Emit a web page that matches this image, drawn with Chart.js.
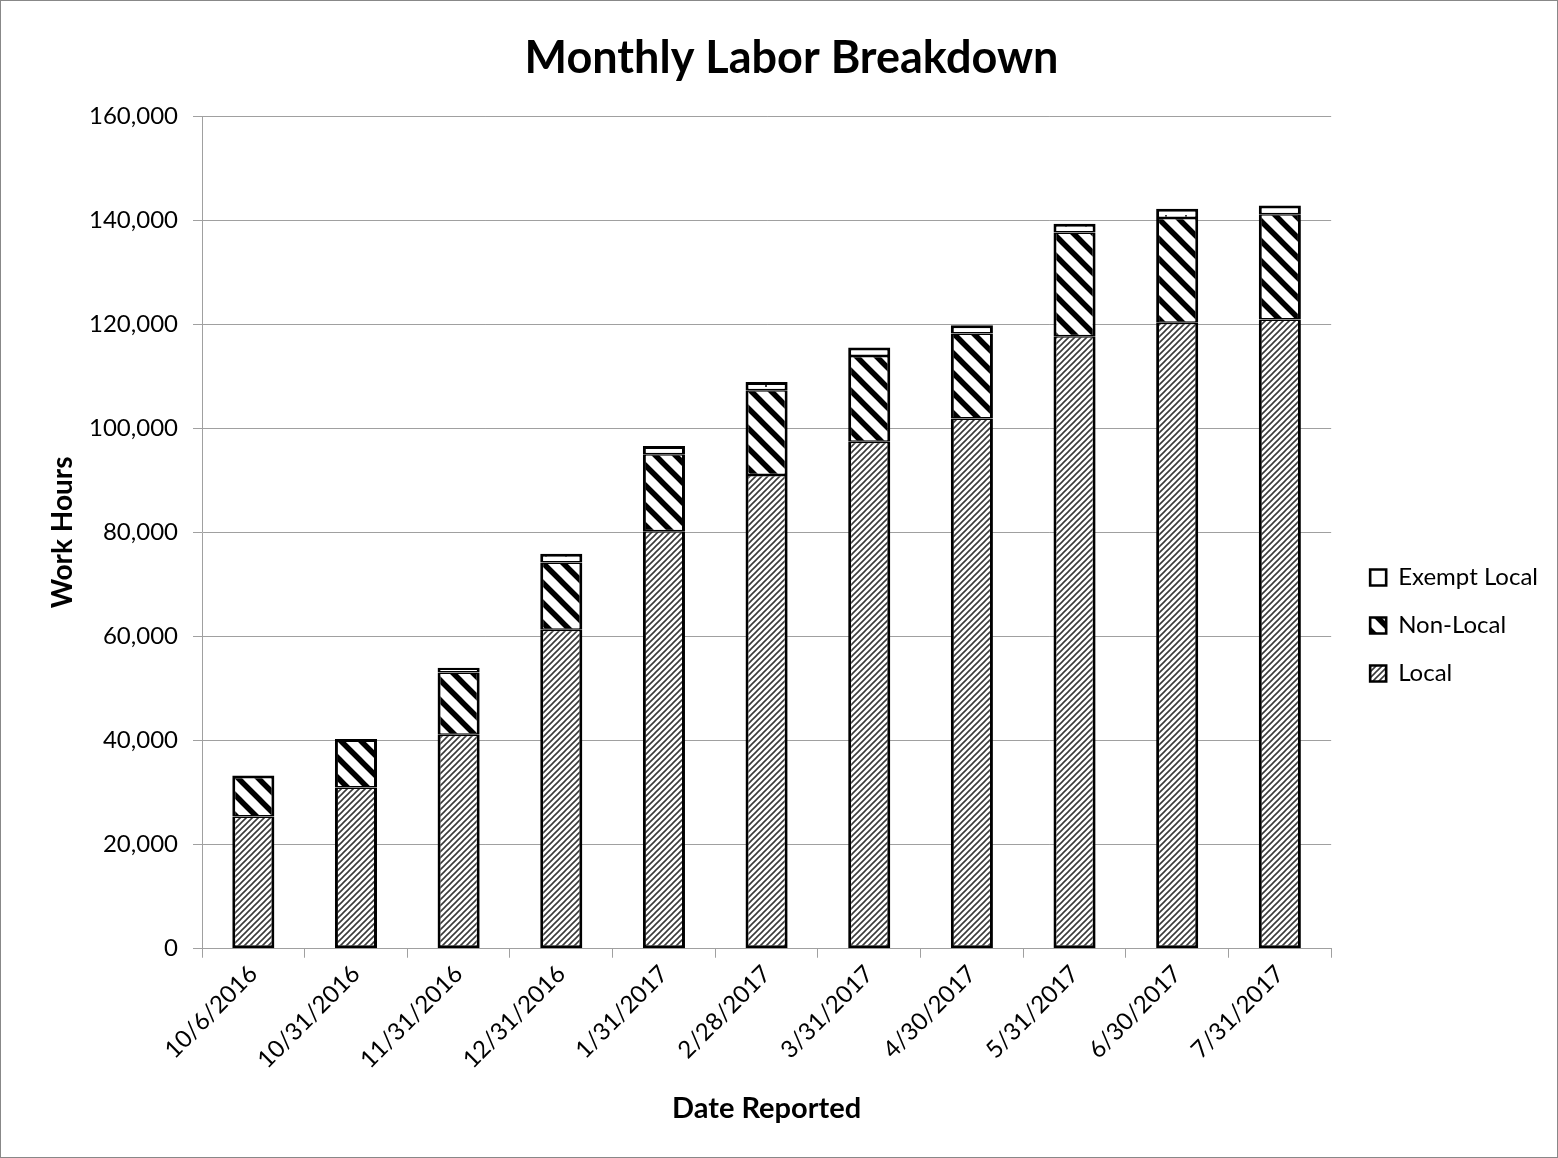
<!DOCTYPE html>
<html lang="en">
<head>
    <meta charset="UTF-8">
    <title>Monthly Labor Breakdown</title>
    <style>
        html, body { margin: 0; padding: 0; background: #fff; }
        #wrap { width: 1558px; height: 1158px; box-sizing: border-box; border: 1px solid #888; position: relative; }
    </style>
</head>
<body>
<div id="wrap">
    <canvas id="grafico" width="1556" height="1156"></canvas>
</div>
<script src="https://cdn.jsdelivr.net/npm/chart.js"></script>
<script type="text/javascript">
    // dates reported (category labels)
    var fechas = ['10/6/2016', '10/31/2016', '11/31/2016', '12/31/2016', '1/31/2017', '2/28/2017',
                  '3/31/2017', '4/30/2017', '5/31/2017', '6/30/2017', '7/31/2017'];
    // work hours per group
    var local = [25400, 31000, 41100, 61300, 80200, 91000, 97400, 101900, 117700, 120300, 120900];
    var nonLocal = [7900, 9300, 12000, 12900, 14800, 16300, 16500, 16300, 19900, 20100, 20200];
    var exemptLocal = [0, 0, 900, 1700, 1600, 1600, 1600, 1600, 1700, 1800, 1700];

    var fuente = "Lato, 'Open Sans', sans-serif";

    function patron(tipo) {
        var c = document.createElement('canvas');
        var ctx = c.getContext('2d');
        if (tipo == 'local') {
            c.width = 6; c.height = 6;
            ctx.fillStyle = '#fff';
            ctx.fillRect(0, 0, 6, 6);
            ctx.strokeStyle = '#3a3a3a';
            ctx.lineWidth = 1.6;
            ctx.beginPath();
            ctx.moveTo(-1, 7); ctx.lineTo(7, -1);
            ctx.moveTo(-4, 4); ctx.lineTo(4, -4);
            ctx.moveTo(2, 10); ctx.lineTo(10, 2);
            ctx.stroke();
        } else if (tipo == 'nonlocal') {
            c.width = 20; c.height = 20;
            ctx.fillStyle = '#fff';
            ctx.fillRect(0, 0, 20, 20);
            ctx.strokeStyle = '#000';
            ctx.lineWidth = 5.5;
            ctx.beginPath();
            ctx.moveTo(-2, -2); ctx.lineTo(22, 22);
            ctx.moveTo(-12, 8); ctx.lineTo(12, 32);
            ctx.moveTo(8, -12); ctx.lineTo(32, 12);
            ctx.stroke();
        } else {
            c.width = 20; c.height = 10;
            ctx.fillStyle = '#fff';
            ctx.fillRect(0, 0, 20, 10);
            ctx.fillStyle = '#444';
            ctx.fillRect(4, 4, 2, 2);
        }
        return ctx.createPattern(c, 'repeat');
    }

    Chart.defaults.font.family = fuente;
    Chart.defaults.color = '#000';

    var data = {
        labels: fechas,
        datasets: [{
            label: 'Local',
            data: local,
            backgroundColor: patron('local'),
            borderColor: '#000',
            borderWidth: { top: 1.5, bottom: 3, left: 3, right: 3 },
            borderSkipped: false
        }, {
            label: 'Non-Local',
            data: nonLocal,
            backgroundColor: patron('nonlocal'),
            borderColor: '#000',
            borderWidth: function(ctx) {
                var arriba = exemptLocal[ctx.dataIndex] > 0 ? 1.5 : 3;
                return { top: arriba, bottom: 1.5, left: 3, right: 3 };
            },
            borderSkipped: false
        }, {
            label: 'Exempt Local',
            data: exemptLocal,
            backgroundColor: patron('exempt'),
            borderColor: '#000',
            borderWidth: { top: 3, bottom: 1.5, left: 3, right: 3 },
            borderSkipped: false
        }]
    };

    var grafico = new Chart(document.getElementById('grafico'), {
        type: 'bar',
        data: data,
        options: {
            responsive: false,
            animation: false,
            layout: { padding: { left: 34, right: 9, top: 0, bottom: 31 } },
            datasets: { bar: { categoryPercentage: 1, barPercentage: 0.41 } },
            plugins: {
                title: {
                    display: true,
                    text: 'Monthly Labor Breakdown',
                    font: { size: 45, weight: 'bold' },
                    color: '#000',
                    padding: { top: 30, bottom: 31 }
                },
                legend: {
                    display: true,
                    position: 'right',
                    reverse: true,
                    title: { display: true, text: ' ', font: { size: 10 }, padding: { top: 0, bottom: 112 } },
                    labels: {
                        boxWidth: 16,
                        boxHeight: 16,
                        padding: 24,
                        font: { size: 24 },
                        color: '#000'
                    }
                },
                tooltip: { enabled: false }
            },
            scales: {
                x: {
                    stacked: true,
                    grid: { display: true, drawOnChartArea: false, color: '#a0a0a0', tickLength: 9, offset: true },
                    border: { color: '#a0a0a0', width: 1 },
                    ticks: { minRotation: 45, maxRotation: 45, font: { size: 24 }, color: '#000', padding: 2 },
                    title: { display: true, text: 'Date Reported', font: { size: 29, weight: 'bold' }, color: '#000', padding: { top: 15, bottom: 0 } }
                },
                y: {
                    stacked: true,
                    min: 0,
                    max: 160000,
                    grid: { color: '#a0a0a0', tickLength: 9 },
                    border: { color: '#a0a0a0', width: 1 },
                    ticks: { stepSize: 20000, font: { size: 24 }, color: '#000', padding: 15 },
                    title: { display: true, text: 'Work Hours', font: { size: 28, weight: 'bold' }, color: '#000', padding: { top: 11, bottom: 0 } },
                    afterFit: function(escala) { escala.width = 167; }
                },
                hueco: {
                    type: 'linear',
                    position: 'right',
                    display: true,
                    grid: { display: false },
                    border: { display: false },
                    ticks: { display: false },
                    afterFit: function(escala) { escala.width = 15; }
                }
            }
        }
    });
</script>
</body>
</html>
